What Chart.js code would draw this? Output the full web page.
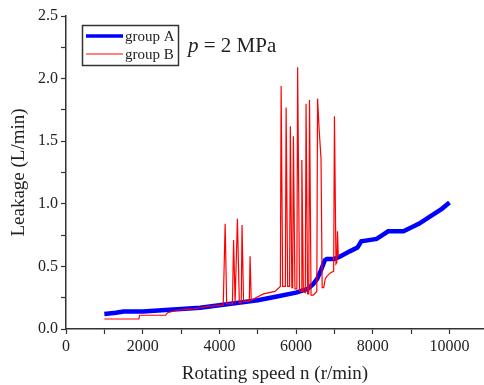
<!DOCTYPE html>
<html>
<head>
<meta charset="utf-8">
<script src="https://cdn.jsdelivr.net/npm/chart.js@4"></script>
<style>
  html, body { margin: 0; padding: 0; background: #fff; }
  #wrap { width: 484px; height: 385px; }
</style>
</head>
<body>
<div id="wrap"><canvas id="myChart" width="484" height="385"></canvas></div>
<script>
// group A - smooth rising curve
const speedA = [1000, 1300, 1500, 2000, 2500, 3000, 3500, 4000, 4500, 5000, 5500, 6000, 6300, 6450, 6550, 6650, 6750,
  6800, 7000, 7150, 7400, 7600, 7700, 7900, 8100, 8250, 8400, 8600, 8800, 9000, 9200, 9400, 9600, 9800, 10000];
const leakA = [0.12, 0.13, 0.14, 0.14, 0.15, 0.16, 0.17, 0.19, 0.21, 0.23, 0.26, 0.29, 0.32, 0.36, 0.40, 0.47, 0.55,
  0.56, 0.56, 0.58, 0.62, 0.65, 0.70, 0.71, 0.72, 0.75, 0.78, 0.78, 0.78, 0.81, 0.84, 0.88, 0.92, 0.96, 1.01];

// group B - baseline with spikes
const speedB = [1000, 1900, 1920, 2600, 2650, 2900, 3300, 3700, 4100, 4150, 4190, 4340, 4370, 4410, 4470, 4520,
  4570, 4590, 4630, 4780, 4800, 4830, 4950, 5150, 5450, 5590, 5610, 5650, 5720, 5740, 5780, 5830, 5850, 5890,
  5910, 5930, 5970, 6020, 6040, 6090, 6130, 6150, 6190, 6240, 6260, 6300, 6330, 6350, 6390, 6450, 6540, 6560,
  6600, 6650, 6680, 6720, 6760, 6800, 6900, 6980, 7000, 7040, 7060, 7080, 7100];
const leakB = [0.08, 0.08, 0.11, 0.11, 0.13, 0.15, 0.16, 0.18, 0.19, 0.84, 0.20, 0.20, 0.71, 0.21, 0.88, 0.21,
  0.21, 0.83, 0.22, 0.22, 0.58, 0.23, 0.25, 0.28, 0.30, 0.34, 1.94, 0.34, 0.34, 1.77, 0.34, 0.34, 1.62, 0.33,
  0.33, 1.54, 0.32, 0.32, 2.09, 0.31, 0.30, 1.35, 0.30, 0.29, 1.80, 0.28, 0.28, 1.83, 0.27, 0.27, 0.30, 1.84,
  1.60, 1.36, 0.33, 0.33, 0.40, 0.42, 0.45, 0.46, 1.70, 0.52, 0.53, 0.78, 0.58];

const seriesNames = ['group A', 'group B'];
// tick positions (labels only on every other one)
const xTicks = [0, 1000, 2000, 3000, 4000, 5000, 6000, 7000, 8000, 9000, 10000];
const xLabels = ['0', '', '2000', '', '4000', '', '6000', '', '8000', '', '10000'];
const yTicks = [0, 0.25, 0.5, 0.75, 1, 1.25, 1.5, 1.75, 2, 2.25, 2.5];
const yLabels = ['0.0', '', '0.5', '', '1.0', '', '1.5', '', '2.0', '', '2.5'];

const serif = '"Liberation Serif", "DejaVu Serif", serif';
const ink = '#222';

const toPoints = (xs, ys) => xs.map((x, i) => ({ x: x, y: ys[i] }));

// legend box + pressure label drawn inside the plot
const legendBox = {
  id: 'legendBox',
  afterDraw(chart) {
    const ctx = chart.ctx;
    const ds = chart.data.datasets;
    ctx.save();
    ctx.strokeStyle = '#333';
    ctx.lineWidth = 1.5;
    ctx.strokeRect(82.5, 25.5, 96, 40);
    const rows = [36, 54];
    ds.forEach((d, i) => {
      ctx.strokeStyle = d.borderColor;
      ctx.lineWidth = i === 0 ? 3.5 : 1.2;
      ctx.beginPath();
      ctx.moveTo(86, rows[i]);
      ctx.lineTo(123, rows[i]);
      ctx.stroke();
      ctx.fillStyle = ink;
      ctx.font = '15px ' + serif;
      ctx.textBaseline = 'middle';
      ctx.fillText(d.label, 125, rows[i] + 1);
    });
    ctx.textBaseline = 'alphabetic';
    ctx.font = 'italic 21px ' + serif;
    ctx.fillText('p', 188, 52);
    const w = ctx.measureText('p').width;
    ctx.font = '21px ' + serif;
    ctx.fillText(' = 2 MPa', 188 + w, 52);
    ctx.restore();
  }
};

const data = {
  datasets: [
    {
      label: seriesNames[0],
      data: toPoints(speedA, leakA),
      borderColor: 'rgb(0, 0, 255)',
      backgroundColor: 'rgb(0, 0, 255)',
      borderWidth: 4.5,
      showLine: true,
      pointRadius: 0,
      order: 2
    },
    {
      label: seriesNames[1],
      data: toPoints(speedB, leakB),
      borderColor: 'rgb(255, 0, 0)',
      backgroundColor: 'rgb(255, 0, 0)',
      borderWidth: 1.2,
      showLine: true,
      pointRadius: 0,
      order: 1
    }
  ]
};

const config = {
  type: 'scatter',
  data: data,
  plugins: [legendBox],
  options: {
    responsive: false,
    animation: false,
    layout: { padding: { top: 16, right: 0, bottom: 0, left: 0 } },
    plugins: { legend: { display: false }, tooltip: { enabled: false } },
    scales: {
      x: {
        type: 'linear',
        min: 0,
        max: 10900,
        afterBuildTicks: s => { s.ticks = xTicks.map(v => ({ value: v })); },
        afterFit: s => { s.height = 56; },
        ticks: {
          autoSkip: false,
          maxRotation: 0,
          minRotation: 0,
          padding: 3,
          color: ink,
          font: { family: serif, size: 16 },
          callback: (v, i) => xLabels[i]
        },
        grid: { drawOnChartArea: false, tickLength: 5, tickColor: '#333', tickWidth: 1.2 },
        border: { color: '#333', width: 1.5 },
        title: {
          display: true,
          text: 'Rotating speed n (r/min)',
          color: ink,
          font: { family: serif, size: 19 },
          padding: { top: 2, bottom: 0 }
        }
      },
      y: {
        min: 0,
        max: 2.5,
        afterBuildTicks: s => { s.ticks = yTicks.map(v => ({ value: v })); },
        afterFit: s => { s.width = 66; },
        ticks: {
          autoSkip: false,
          padding: 3,
          color: ink,
          font: { family: serif, size: 16 },
          callback: (v, i) => yLabels[i]
        },
        grid: { drawOnChartArea: false, tickLength: 5, tickColor: '#333', tickWidth: 1.2 },
        border: { color: '#333', width: 1.5 },
        title: {
          display: true,
          text: 'Leakage (L/min)',
          color: ink,
          font: { family: serif, size: 19 },
          padding: { top: 8, bottom: 4 }
        }
      }
    }
  }
};

const myChart = new Chart(document.getElementById('myChart'), config);
</script>
</body>
</html>
